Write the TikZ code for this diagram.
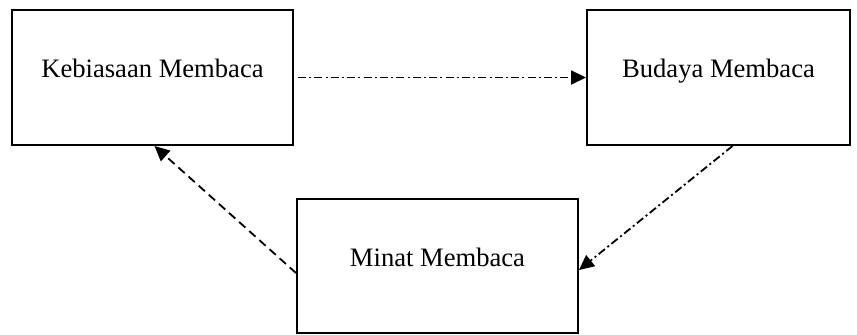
\documentclass[tikz,border=0pt]{standalone}
\usepackage{fontspec}
\setmainfont{Liberation Serif}
\usetikzlibrary{arrows.meta,positioning}

\begin{document}
\begin{tikzpicture}[>={Triangle[length=7.5pt,width=7pt]},node distance=283pt,on grid,
		box/.style={draw,line width=1pt,minimum width=140.5pt,minimum height=67.5pt,
			text height=5pt,text depth=5pt,font=\fontsize{13.3}{16}\selectfont},
		linkdot/.style={line width=0.9pt,dash pattern=on 4pt off 1.6pt on 1pt off 1.6pt},
		linkdash/.style={line width=0.9pt,dash pattern=on 4.2pt off 2.6pt}]
		\useasboundingbox (0,0) rectangle (428.5pt,-167pt);
		
		\node[box]						(keb)	at (76.25pt,-38.75pt)						{Kebiasaan Membaca};
		\node[box,minimum width=131.5pt]	(bud)	[right=of keb]								{Budaya Membaca};
		\node[box,minimum height=67pt]	(minat)	[below right=94.25pt and 142.5pt of keb]	{Minat Membaca};
		
		\path[->]	([xshift=2pt]keb.east)		edge[linkdot]	(bud.west)
					([xshift=7pt]bud.south)		edge[linkdot]	([yshift=-2pt]minat.east)
					([yshift=-3.5pt]minat.west)	edge[linkdash]	([xshift=1pt]keb.south);
	\end{tikzpicture}
\end{document}
